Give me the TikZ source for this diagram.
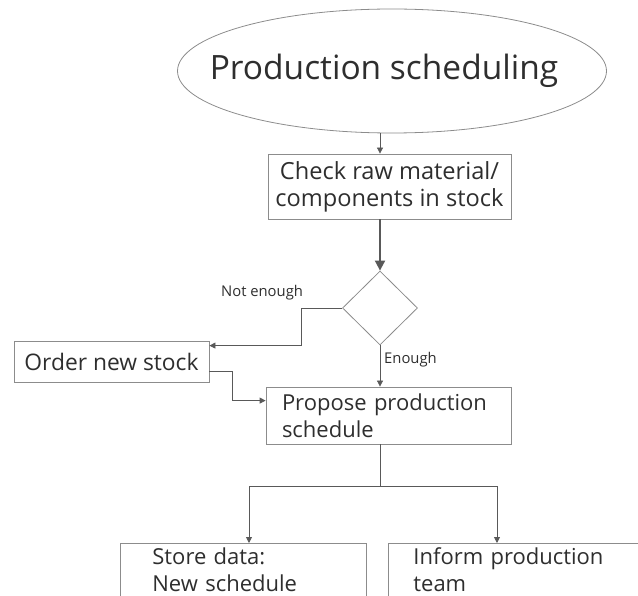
\documentclass[tikz,border=0pt]{standalone}
\usepackage{fontspec}
\setmainfont{Open Sans}
\usetikzlibrary{shapes.geometric,arrows.meta,calc}
\definecolor{edgecol}{gray}{0.35}
\definecolor{boxcol}{gray}{0.55}
\definecolor{txtcol}{gray}{0.18}
\tikzset{
  boxtext/.style={font=\fontsize{22}{27}\selectfont, text=txtcol},
  procbox/.style={draw=boxcol, line width=0.8pt, rectangle, boxtext, inner sep=0pt},
  conn/.style={draw=edgecol, line width=0.8pt},
  arr/.style={conn, -{Triangle[length=6pt,width=6pt]}},
  thickarr/.style={draw=edgecol, line width=1.8pt, -{Triangle[length=10pt,width=10pt]}},
  lbl/.style={font=\fontsize{14.8}{17}\selectfont, text=txtcol, inner sep=0pt}
}
\begin{document}
\begin{tikzpicture}[x=1pt,y=-1pt]
  \useasboundingbox (0,0) rectangle (638,596);
  \clip (0,0) rectangle (638,596);

  % start terminal (zero-width text box so the ellipse keeps its given size)
  \node[draw=boxcol, line width=0.8pt, ellipse, minimum width=429pt, minimum height=124pt,
        inner sep=0pt, font=\fontsize{33.5}{38}\selectfont, text=txtcol]
        (title) at (392,71) {\makebox[0pt]{Production scheduling\hspace{16pt}}};

  % steps
  \node[procbox, minimum width=243pt, minimum height=65pt, align=center,
        font=\fontsize{23.6}{27}\selectfont]
        (check) at (389.5,186.5) {Check raw material/\\components in stock};
  \node[draw=boxcol, line width=0.8pt, diamond, minimum width=75pt, minimum height=74pt, inner sep=0pt]
        (dec) at (380,308) {};
  \node[procbox, minimum width=195pt, minimum height=41pt, font=\fontsize{22.8}{27}\selectfont]
        (order) at (111.5,361.5) {Order new stock};
  \node[procbox, minimum width=245pt, minimum height=57pt, text width=213pt, align=left]
        (propose) at (388.5,415.5) {Propose production\\schedule};
  % the two output boxes run on past the lower edge of the sheet (empty last line)
  \node[procbox, anchor=north west, minimum width=246pt, inner xsep=0pt, inner ysep=4pt,
        text width=246pt, align=left]
        (store) at (120,543) {\hspace*{32pt}Store data:\\\hspace*{32pt}New schedule\\\mbox{}};
  \node[procbox, anchor=north west, minimum width=270pt, inner xsep=0pt, inner ysep=4pt,
        text width=270pt, align=left]
        (inform) at (388,543) {\hspace*{25pt}Inform production\\\hspace*{25pt}team\\\mbox{}};

  % connectors
  \coordinate (spine) at (380,0);
  \coordinate (branch) at (380.5,486);
  \coordinate (sx) at (249,0);
  \coordinate (ix) at (497,0);

  \draw[arr] (title.south -| spine) -- (check.north -| spine);
  \draw[thickarr] (check.south -| spine) -- (dec.north);
  \draw[arr] (dec.west) -- ++(-41,0) |- ([yshift=-5pt]order.north east);
  \draw[arr] ([yshift=11pt]order.south east) -- ++(23,0) |- ([yshift=-14pt]propose.north west);
  \draw[arr] (dec.south) -- (dec.south |- propose.north);
  \draw[conn] (propose.south -| branch) -- (branch);
  \draw[arr] (branch) -| (store.north -| sx);
  \draw[arr] (branch) -| (inform.north -| ix);

  % branch labels
  \node[lbl, anchor=base west] (notenough) at (221,297) {Not enough};
  \node[lbl, anchor=base west] (enough) at (384,363) {Enough};
\end{tikzpicture}
\end{document}
